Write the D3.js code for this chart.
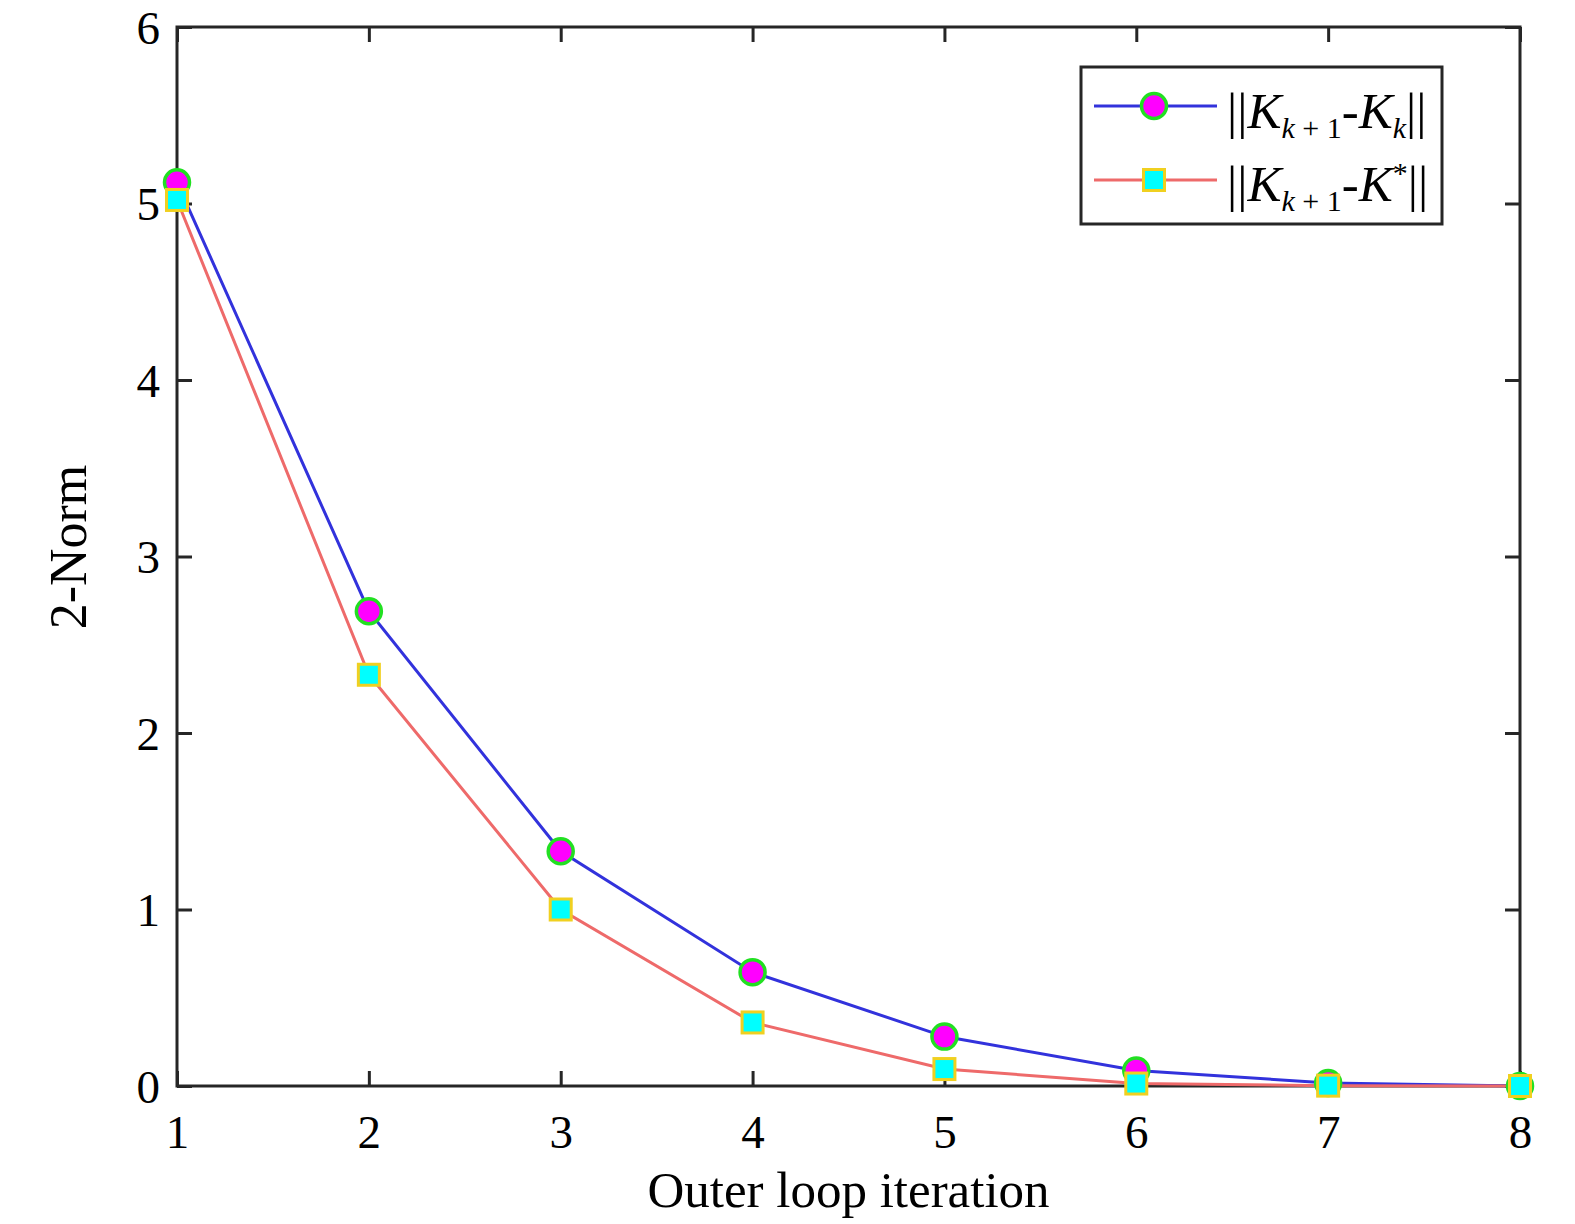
<!DOCTYPE html>
<html><head><meta charset="utf-8">
<script src="https://cdn.jsdelivr.net/npm/d3@7"></script>
<style>body{margin:0;background:#fff}svg{display:block}text{font-family:"Liberation Serif","Times New Roman",serif;fill:#000}</style>
</head><body>
<svg id="c" width="1575" height="1224"></svg>
<script>
const iterations = [1,2,3,4,5,6,7,8];
const diffK = [5.12, 2.69, 1.33, 0.645, 0.28, 0.088, 0.017, 0.0];
const errK = [5.02, 2.33, 1.0, 0.36, 0.096, 0.014, 0.002, 0.0];
const xTicks = [1,2,3,4,5,6,7,8];
const yTicks = [0,1,2,3,4,5,6];

const svg = d3.select("#c");
const L=177, R=1520, T=27, B=1086;
const x = d3.scaleLinear().domain([1,8]).range([L,R]);
const y = d3.scaleLinear().domain([0,6]).range([B,T]);
const axisColor = "#262626";

const g = svg.append("g");
g.append("rect").attr("x",L).attr("y",T).attr("width",R-L).attr("height",B-T)
 .attr("fill","none").attr("stroke",axisColor).attr("stroke-width",3);

const tl = 15;
const bottomAxis = d3.axisBottom(x).tickValues(xTicks).tickSize(-tl).tickFormat(d3.format("d"));
const topAxis = d3.axisTop(x).tickValues(xTicks).tickSize(-tl).tickFormat("");
const leftAxis = d3.axisLeft(y).tickValues(yTicks).tickSize(-tl).tickPadding(17).tickFormat(d3.format("d"));
const rightAxis = d3.axisRight(y).tickValues(yTicks).tickSize(-tl).tickFormat("");
function style(sel){
  sel.attr("font-family",'"Liberation Serif",serif').attr("font-size",47);
  sel.select(".domain").remove();
  sel.selectAll(".tick line").attr("stroke",axisColor).attr("stroke-width",3);
  sel.selectAll(".tick text").attr("font-size",47).attr("font-family",'"Liberation Serif",serif').attr("fill","#000");
}
g.append("g").attr("transform",`translate(0,${B})`).call(bottomAxis).call(style)
  .selectAll(".tick text").attr("dy",0).attr("y",62);
g.append("g").attr("transform",`translate(0,${T})`).call(topAxis).call(style);
g.append("g").attr("transform",`translate(${L},0)`).call(leftAxis).call(style)
  .selectAll(".tick text").attr("dy","0.35em");
g.append("g").attr("transform",`translate(${R},0)`).call(rightAxis).call(style);

svg.append("text").attr("x",(L+R)/2).attr("y",1207).attr("text-anchor","middle")
  .attr("font-size",51).text("Outer loop iteration");
svg.append("text").attr("transform","translate(86,547) rotate(-90)").attr("text-anchor","middle")
  .attr("font-size",52).text("2-Norm");

const series = [
  {vals: diffK, line:"#3232dc", shape:"circle", fill:"#ff00ff", stroke:"#22e022"},
  {vals: errK, line:"#ee6a6a", shape:"square", fill:"#00ffff", stroke:"#f0d020"}
];
const lineGen = d3.line().x((d,i)=>x(iterations[i])).y(d=>y(d));
function marker(sel, s){
  if(s.shape==="circle"){
    sel.append("circle").attr("r",12.5).attr("fill",s.fill).attr("stroke",s.stroke).attr("stroke-width",3.5);
  } else {
    sel.append("rect").attr("x",-10.5).attr("y",-10.5).attr("width",21).attr("height",21)
      .attr("fill",s.fill).attr("stroke",s.stroke).attr("stroke-width",3);
  }
}
series.forEach(s=>{
  svg.append("path").datum(s.vals).attr("d",lineGen).attr("fill","none")
    .attr("stroke",s.line).attr("stroke-width",3);
});
series.forEach(s=>{
  s.vals.forEach((v,i)=>{
    const m = svg.append("g").attr("transform",`translate(${x(iterations[i])},${y(v)})`);
    marker(m,s);
  });
});

const lg = svg.append("g");
lg.append("rect").attr("x",1081).attr("y",67).attr("width",361).attr("height",157)
  .attr("fill","#fff").attr("stroke",axisColor).attr("stroke-width",3);
const rows = [106,180];
const bases = [128,201];
series.forEach((s,i)=>{
  lg.append("line").attr("x1",1094).attr("x2",1217).attr("y1",rows[i]).attr("y2",rows[i])
    .attr("stroke",s.line).attr("stroke-width",3);
  const m = lg.append("g").attr("transform",`translate(1154,${rows[i]})`);
  marker(m,s);
});
function legendText(yb, second){
  const t = lg.append("text").attr("x",1227).attr("y",yb).attr("font-size",51);
  t.append("tspan").text("||");
  t.append("tspan").attr("font-style","italic").text("K");
  t.append("tspan").attr("font-size",30).attr("dy",10).attr("font-style","italic").text("k");
  t.append("tspan").attr("font-size",30).text(" + 1");
  t.append("tspan").attr("dy",-10).text("-");
  t.append("tspan").attr("font-style","italic").text("K");
  if(!second){
    t.append("tspan").attr("font-size",30).attr("dy",10).attr("font-style","italic").text("k");
    t.append("tspan").attr("dy",-10).text("||");
  } else {
    t.append("tspan").attr("font-size",30).attr("dy",-18).text("*");
    t.append("tspan").attr("dy",18).text("||");
  }
}
legendText(bases[0], false);
legendText(bases[1], true);
</script>
</body></html>
